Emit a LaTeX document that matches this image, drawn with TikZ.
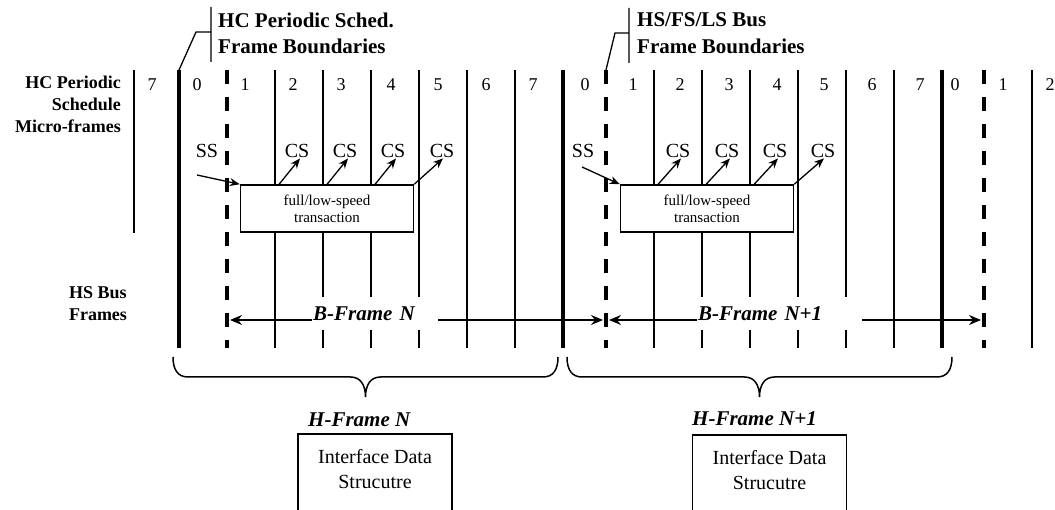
\documentclass[tikz,border=0pt]{standalone}
\usepackage{fontspec}
\setmainfont{Liberation Serif}
\usepackage{tikz}
\usetikzlibrary{arrows.meta}

\begin{document}
\begin{tikzpicture}[x=1pt,y=-1pt,
		mfline/.style={line width=1.3pt},
		hcline/.style={line width=4pt},
		busline/.style={line width=3.3pt,dash pattern=on 14pt off 13pt},
		num/.style={font=\fontsize{18}{22}\selectfont,inner sep=0pt},
		lbl/.style={font=\fontsize{18}{22}\selectfont\bfseries,inner sep=0pt},
		hdr/.style={font=\fontsize{21}{26.6}\selectfont\bfseries,align=left,anchor=north west,inner sep=0pt},
		tag/.style={font=\fontsize{20}{24}\selectfont,inner sep=0pt},
		trans/.style={draw,line width=1.5pt,fill=white,minimum width=173pt,minimum height=47pt,align=center,font=\fontsize{15}{17}\selectfont},
		bfr/.style={fill=white,anchor=west,inner xsep=1pt,inner ysep=0pt,minimum height=33pt,text width=#1,align=left,font=\fontsize{21}{24}\selectfont\bfseries\itshape},
		hfr/.style={anchor=base west,inner sep=0pt,font=\fontsize{21}{24}\selectfont\bfseries\itshape},
		ids/.style={minimum width=154pt,minimum height=70pt,align=center,font=\fontsize{20}{25}\selectfont},
		bxl/.style={line width=1.5pt},
		brc/.style={line width=1.5pt},
		span/.style={line width=1.3pt,{Stealth[length=12pt,width=10pt]}-{Stealth[length=12pt,width=10pt]},shorten <=3pt,shorten >=3pt},
		ptr/.style={line width=1.3pt,-{Stealth[length=10pt,width=8pt]}}
	]
	\useasboundingbox (0,0) rectangle (1055,510);
	\clip (0,0) rectangle (1055,510);

	\foreach \x in {275,323,371,419,467,515,654,702,750,798,846,894,1032}
		\draw[mfline] (\x,70) -- (\x,348);
	\draw[mfline] (134,70) -- (134,233);
	\foreach \x/\n in {179/hcA,563/hcB,942/hcC}
		\draw[hcline] (\x,70) coordinate (\n) -- (\x,348);
	\foreach \x/\n in {227/busA,606/busB,984/busC}
		\draw[busline] (\x,70) coordinate (\n) -- (\x,348);

	\foreach \x/\n in {152/7,197/0,245/1,293/2,341/3,391/4,438/5,486/6,533/7,585/0,633/1,680/2,729/3,777/4,824/5,872/6,920/7,955/0,1003/1,1050/2}
		\node[num] (mf\x) at (\x,85) {\n};

	\node[lbl,align=right,anchor=north east] (mfLbl) at (121,76) {HC Periodic\\Schedule\\Micro-frames};
	\node[lbl,align=center,anchor=north] (hsLbl) at (98,286) {HS Bus\\Frames};

	\node[hdr] (hcHdr) at (218,12.5) {HC Periodic Sched.\\Frame Boundaries};
	\node[hdr] (busHdr) at (637,12.5) {HS/FS/LS Bus\\Frame Boundaries};
	\draw[mfline] (211,7) -- (211,62) (211,32) -- (196,32) -- (hcA);
	\draw[mfline] (629,8) -- (629,63) (629,33) -- (615,33) -- (busB);

	\node[trans] (trA) at (327,208.5) {full/low-speed\\transaction};
	\node[trans] (trB) at (707,208.5) {full/low-speed\\transaction};

	\node[tag] (ssA) at (207,150.5) {SS};
	\node[tag] (ssB) at (583,150.5) {SS};
	\foreach \x/\n in {297/1,345/2,393/3,442/4}
		\node[tag] (csA\n) at (\x,150.5) {CS};
	\foreach \x/\n in {678/1,727/2,775/3,823/4}
		\node[tag] (csB\n) at (\x,150.5) {CS};

	\draw[ptr] (197,175) -- (trA.north west);
	\draw[ptr] (582,167) -- (trB.north west);
	\draw[ptr] (278.5,185) -- ([xshift=3pt,yshift=-1pt]csA1.south);
	\draw[ptr] (326.5,185) -- ([xshift=3pt,yshift=-1pt]csA2.south);
	\draw[ptr] (374.5,185) -- ([xshift=3pt,yshift=-1pt]csA3.south);
	\draw[ptr] (trA.north east) -- ([xshift=1pt,yshift=-1pt]csA4.south);
	\draw[ptr] (657.5,185) -- ([xshift=3pt,yshift=-1pt]csB1.south);
	\draw[ptr] (705.5,185) -- ([xshift=3pt,yshift=-1pt]csB2.south);
	\draw[ptr] (753.5,185) -- ([xshift=3pt,yshift=-1pt]csB3.south);
	\draw[ptr] (trB.north east) -- ([xshift=1pt,yshift=-1pt]csB4.south);

	\coordinate (spA) at (227,320);
	\coordinate (spB) at (606,320);
	\coordinate (spC) at (984,320);
	\draw[span] (spA) -- (spB);
	\draw[span] (spB) -- (spC);
	\node[bfr=124pt] (bfN) at (312,313.5) {B-Frame N};
	\node[bfr=163pt] (bfN1) at (697,313.5) {B-Frame N+1};

	\foreach \a/\m/\b in {173/365.5/558,567/759.5/952}
		\draw[brc] (\a,357) .. controls (\a,370) and (\a+5,377) .. (\a+15,377) -- (\m-15,377)
			.. controls (\m-5,377) and (\m,385) .. (\m,397)
			.. controls (\m,385) and (\m+5,377) .. (\m+15,377) -- (\b-15,377)
			.. controls (\b-5,377) and (\b,370) .. (\b,357);

	\node[hfr] (hfN) at (308,427) {H-Frame N};
	\node[hfr] (hfN1) at (692,425) {H-Frame N+1};
	\node[ids] (idsN) at (375,469) {Interface Data\\Strucutre};
	\node[ids] (idsN1) at (769.5,470) {Interface Data\\Strucutre};
	\draw[bxl] ([yshift=-20pt]idsN.south west) -- (idsN.north west) -- (idsN.north east) -- ([yshift=-20pt]idsN.south east);
	\draw[bxl] ([yshift=-20pt]idsN1.south west) -- (idsN1.north west) -- (idsN1.north east) -- ([yshift=-20pt]idsN1.south east);
\end{tikzpicture}
\end{document}
